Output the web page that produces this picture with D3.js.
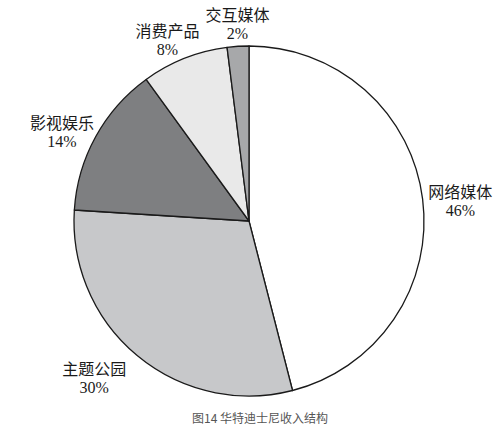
<!DOCTYPE html>
<html>
<head>
<meta charset="utf-8">
<script src="https://cdn.jsdelivr.net/npm/d3@7"></script>
<style>
  body { margin: 0; background: #fff; }
  svg { display: block; }
</style>
</head>
<body>
<div id="chart"></div>
<script>
// revenue structure data
var categories = ['网络媒体', '主题公园', '影视娱乐', '消费产品', '交互媒体'];
var shares = [46, 30, 14, 8, 2];
var sliceColors = ['#ffffff', '#c7c8ca', '#7e7f81', '#e9e9e9', '#a7a8aa'];
var caption = '图14 华特迪士尼收入结构';

var width = 499, height = 432;
var cx = 249, cy = 221, radius = 175;

var svg = d3.select('#chart').append('svg')
    .attr('width', width)
    .attr('height', height);

var g = svg.append('g').attr('transform', 'translate(' + cx + ',' + cy + ')');

var data = categories.map(function(c, i) { return {name: c, value: shares[i], color: sliceColors[i]}; });

var pie = d3.pie()
    .value(function(d) { return d.value; })
    .sort(null);

var arc = d3.arc().innerRadius(0).outerRadius(radius);

var arcs = pie(data);

g.selectAll('path')
    .data(arcs)
    .enter().append('path')
    .attr('d', arc)
    .attr('fill', function(d) { return d.data.color; })
    .attr('stroke', '#1a1a1a')
    .attr('stroke-width', 1.3)
    .attr('stroke-linejoin', 'round');

// label positions: radius and small offsets per slice, tuned to the reference
var labelArc = function(d, r) {
    var a = (d.startAngle + d.endAngle) / 2;
    return [Math.sin(a) * r, -Math.cos(a) * r];
};
var labelRadius = [212, 210, 210, 200, 200];
var labelNudge = [[1, 4], [-21, -8], [-3, 9], [-8, 2], [1, 0]];

var labels = g.selectAll('g.lbl')
    .data(arcs)
    .enter().append('g')
    .attr('class', 'lbl')
    .attr('transform', function(d, i) {
        var p = labelArc(d, labelRadius[i]);
        return 'translate(' + (p[0] + labelNudge[i][0]) + ',' + (p[1] + labelNudge[i][1]) + ')';
    });

labels.append('text')
    .attr('text-anchor', 'middle')
    .attr('y', 0)
    .attr('font-family', '"Liberation Serif", "DejaVu Serif", "Noto Sans CJK SC", serif')
    .attr('font-size', 16)
    .attr('fill', '#1a1a1a')
    .text(function(d) { return d.data.name; });

labels.append('text')
    .attr('text-anchor', 'middle')
    .attr('y', 18)
    .attr('font-family', '"Liberation Serif", "DejaVu Serif", serif')
    .attr('font-size', 16)
    .attr('fill', '#1a1a1a')
    .text(function(d) { return d.data.value + '%'; });

svg.append('text')
    .attr('x', 260)
    .attr('y', 423)
    .attr('text-anchor', 'middle')
    .attr('font-family', '"Noto Sans CJK SC", sans-serif')
    .attr('font-size', 12)
    .attr('fill', '#555')
    .text(caption);
</script>
</body>
</html>
